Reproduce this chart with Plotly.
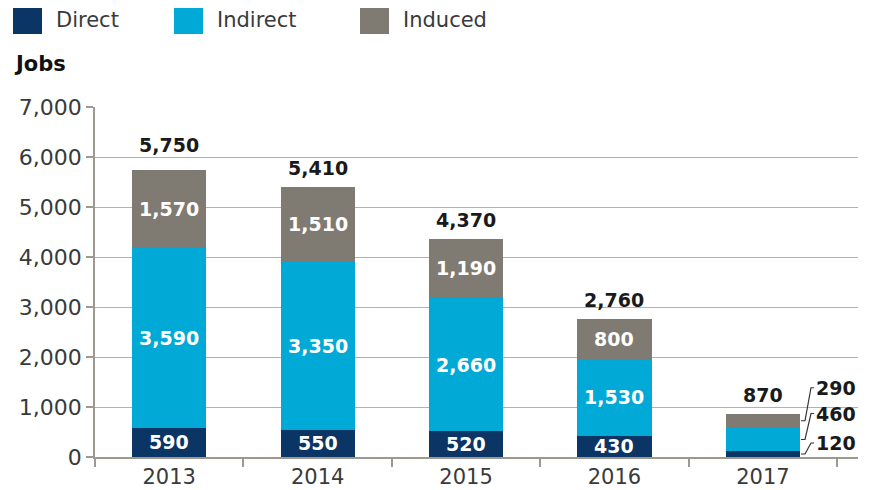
import plotly.graph_objects as go

years = ["2013", "2014", "2015", "2016", "2017"]
direct = [590, 550, 520, 430, 120]
indirect = [3590, 3350, 2660, 1530, 460]
induced = [1570, 1510, 1190, 800, 290]
totals = [5750, 5410, 4370, 2760, 870]
series_names = ["Direct", "Indirect", "Induced"]
colors = ["#0b3565", "#00a9d6", "#7f7a72"]
y_ticks = [0, 1000, 2000, 3000, 4000, 5000, 6000, 7000]

REG = "DejaVu Sans"
BOLD = "DejaVu Sans"
TXT = "#3a3a3a"
series = [direct, indirect, induced]

fig = go.Figure()
for name, vals, col in zip(series_names, series, colors):
    fig.add_trace(go.Bar(x=years, y=vals, name=name, marker_color=col,
                         marker_line_width=0, showlegend=False))

annotations = []
shapes = []
total_shift = [25, 19, 19, 19, 19]
for i, yr in enumerate(years):
    base = 0
    for vals in series:
        v = vals[i]
        mid = base + v / 2
        if i < len(years) - 1:
            annotations.append(dict(x=i, y=mid, text=f"<b>{v:,}</b>", showarrow=False,
                                    font=dict(family=BOLD, size=19, color="white"),
                                    xanchor="center", yanchor="middle"))
        base += v
    annotations.append(dict(x=i, y=totals[i], text=f"<b>{totals[i]:,}</b>", showarrow=False,
                            font=dict(family=BOLD, size=19, color="#1a1a1a"),
                            xanchor="center", yanchor="middle", yshift=total_shift[i]))

# last-year callouts with leader lines
last = len(years) - 1
rises = [11, 26, 33]
base = 0
for vals, dy in zip(series, rises):
    v = vals[last]
    mid = base + v / 2
    base += v
    shapes.append(dict(type="path", xref="x", yref="y", xsizemode="pixel", ysizemode="pixel",
                       xanchor=last + 0.25, yanchor=mid,
                       path=f"M 1,0 L 5,0 L 11,{dy} L 14,{dy}",
                       line=dict(color="#333333", width=1.2)))
    annotations.append(dict(x=last + 0.25, y=mid, text=f"<b>{v:,}</b>", showarrow=False,
                            font=dict(family=BOLD, size=19, color="#1a1a1a"),
                            xanchor="left", yanchor="middle", xshift=14, yshift=dy))

# manual legend (pixel offsets from plot-area top-left)
leg_sq = [-82, 79, 265]
for name, col, sx in zip(series_names, colors, leg_sq):
    shapes.append(dict(type="rect", xref="paper", yref="paper", xsizemode="pixel", ysizemode="pixel",
                       xanchor=0, yanchor=1, x0=sx, x1=sx + 29, y0=101, y1=73,
                       fillcolor=col, line_width=0))
    annotations.append(dict(x=0, y=1, xref="paper", yref="paper", xanchor="left", yanchor="middle",
                            xshift=sx + 41, yshift=87, text=name, showarrow=False,
                            font=dict(family=REG, size=21, color=TXT)))
annotations.append(dict(x=0, y=1, xref="paper", yref="paper", xanchor="left", yanchor="middle",
                        xshift=-83, yshift=43, text="<b>Jobs</b>", showarrow=False,
                        font=dict(family=BOLD, size=21, color="#111111")))

fig.update_layout(
    annotations=annotations,
    shapes=shapes,
    width=871, height=490,
    margin=dict(l=87, r=21, t=99, b=41),
    barmode="stack", bargap=0.5,
    plot_bgcolor="white", paper_bgcolor="white",
    font=dict(family=REG, size=21, color=TXT),
    xaxis=dict(type="category", showline=True, linecolor="#9d9890", linewidth=1.5, ticks="outside",
               tickson="boundaries", ticklen=8, tickcolor="#9d9890", tickwidth=1.5,
               tickfont=dict(family=REG, size=21, color=TXT), showgrid=False,
               automargin=False),
    yaxis=dict(range=[0, 7000], tickvals=y_ticks, ticktext=[f"{t:,}" for t in y_ticks],
               showline=True, linecolor="#9d9890", linewidth=1.5, ticks="outside",
               ticklen=7, tickcolor="#9d9890", tickwidth=1.5,
               gridcolor="#b5b0aa", gridwidth=1.2, zeroline=False, automargin=False,
               tickfont=dict(family=REG, size=22, color=TXT)),
)

fig.write_html("out.html")
